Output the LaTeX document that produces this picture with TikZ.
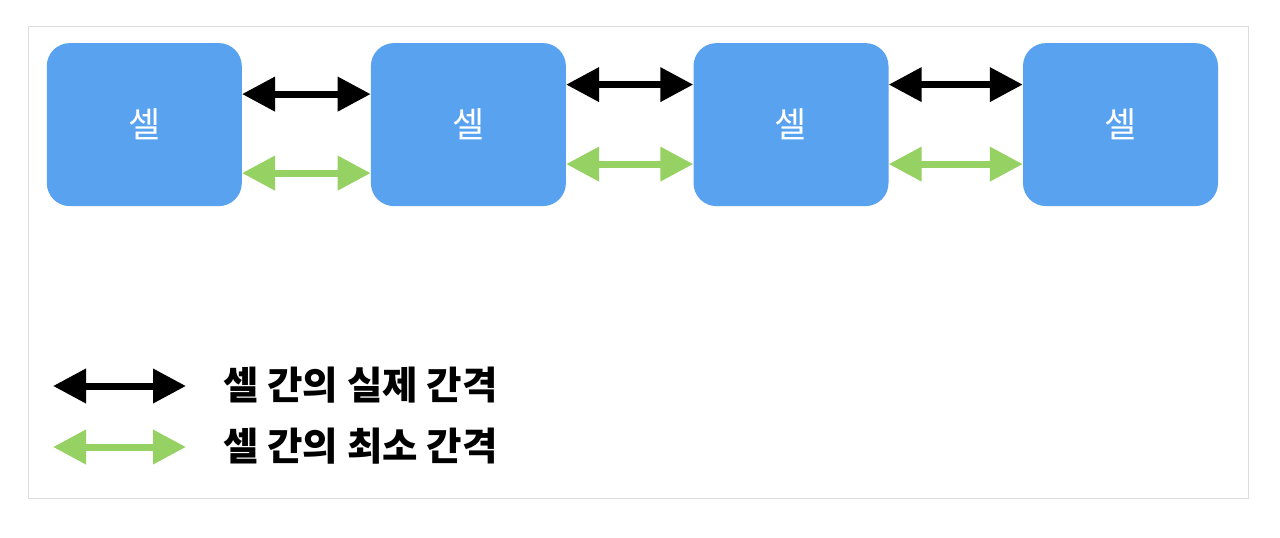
\documentclass[tikz,border=0pt]{standalone}
\usepackage{fontspec}
\newfontfamily\krfont{Noto Sans CJK KR}
\usetikzlibrary{arrows.meta}

\definecolor{cellblue}{HTML}{58A2EF}
\definecolor{gapgreen}{HTML}{96D163}
\definecolor{framegray}{HTML}{DDDDDD}

\begin{document}
\begin{tikzpicture}[x=1pt, y=-1pt]

\tikzset{cell/.style = {shape=rectangle, rounded corners=23pt, fill=cellblue,
  minimum width=195pt, minimum height=163pt, text=white, font=\krfont\fontsize{35}{40}\selectfont}}
\tikzset{gap/.style = {{Triangle[length=33pt,width=33pt]}-{Triangle[length=33pt,width=33pt]}, line width=7pt}}
\tikzset{legendtext/.style = {anchor=west, inner sep=0pt, font=\krfont\bfseries\fontsize{38.5}{44}\selectfont}}

\useasboundingbox (0,0) rectangle (1280,538);
\draw[framegray, line width=1pt] (28,26.5) rectangle (1248.5,498);

%cells
\node[cell] (c1) at (144.3,124.6) {셀};
\node[cell] (c2) at (468.4,124.6) {셀};
\node[cell] (c3) at (791,124.6) {셀};
\node[cell] (c4) at (1120.5,124.6) {셀};

%actual gaps
\draw[gap, black] ([yshift=30.5pt]c1.east) -- ([yshift=30.5pt]c2.west);
\draw[gap, black] ([yshift=40pt]c2.east) -- ([yshift=40pt]c3.west);
\draw[gap, black] ([yshift=40pt]c3.east) -- ([yshift=40pt]c4.west);
%minimum gaps
\draw[gap, gapgreen] ([yshift=-48.5pt]c1.east) -- ([yshift=-48.5pt]c2.west);
\draw[gap, gapgreen] ([yshift=-39.5pt]c2.east) -- ([yshift=-39.5pt]c3.west);
\draw[gap, gapgreen] ([yshift=-39.5pt]c3.east) -- ([yshift=-39.5pt]c4.west);

%legend
\coordinate (l1a) at (53,386);
\coordinate (l1b) at (186,386);
\coordinate (l2a) at (53,447);
\coordinate (l2b) at (186,447);
\draw[gap, black] (l1a) -- (l1b);
\draw[gap, gapgreen] (l2a) -- (l2b);
\node[legendtext] (t1) at (223,385) {셀 간의 실제 간격};
\node[legendtext] (t2) at (223,446) {셀 간의 최소 간격};

\end{tikzpicture}
\end{document}
